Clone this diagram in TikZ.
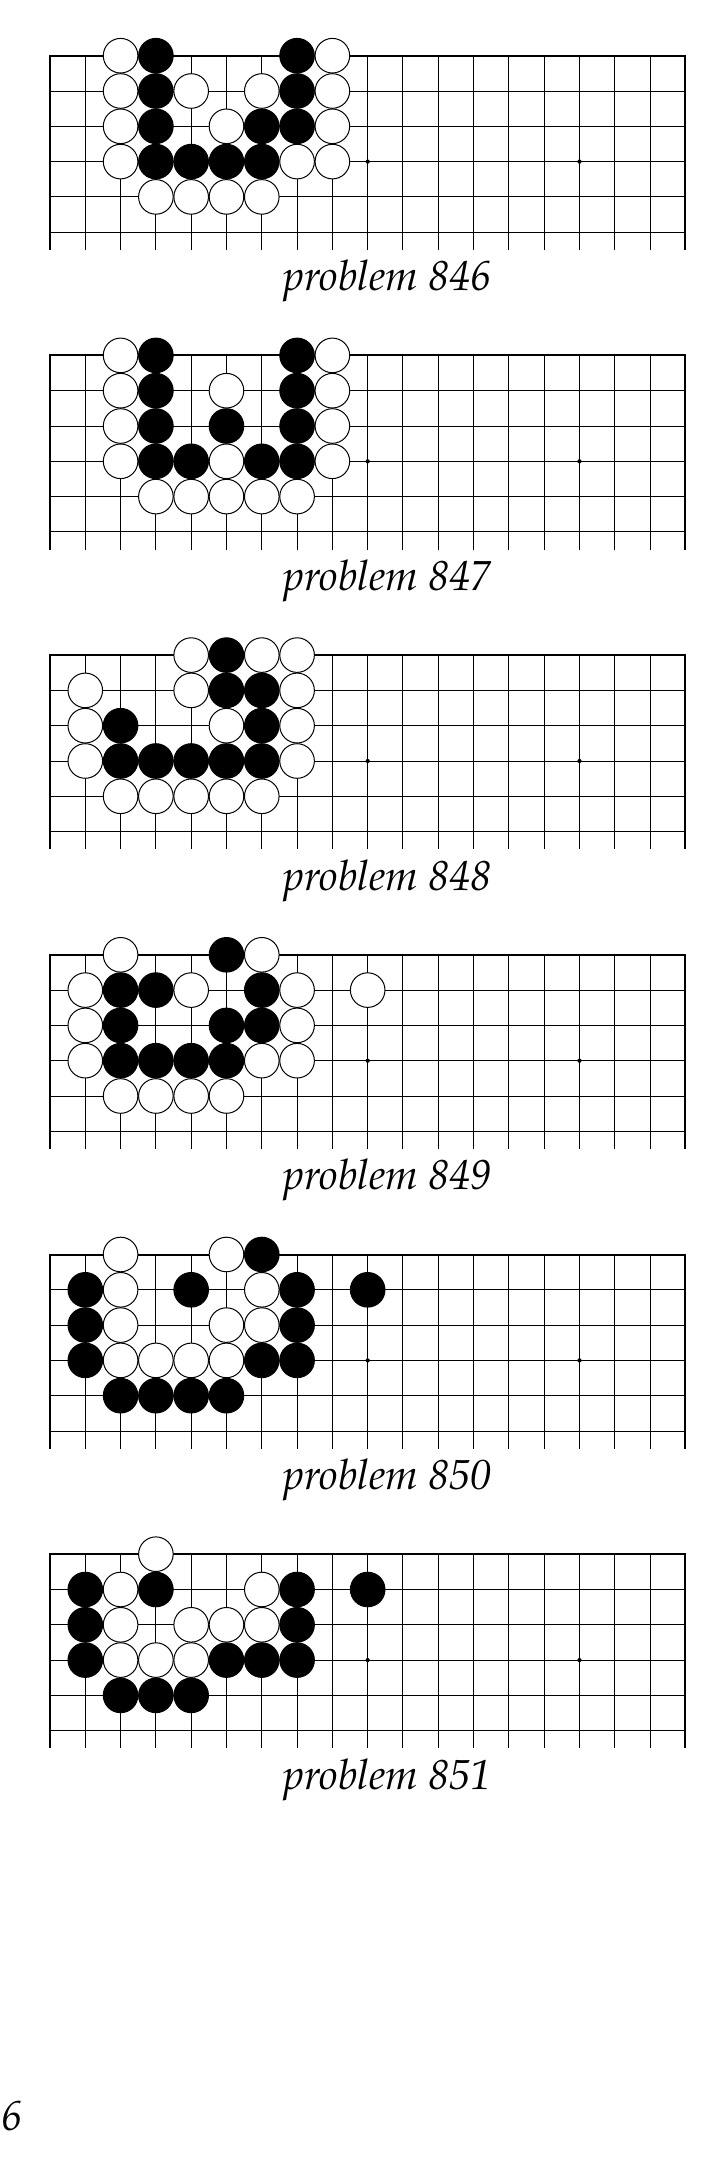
\documentclass[tikz,border=0pt]{standalone}
\usepackage{fontspec}
\setmainfont{TeX Gyre Pagella}
\usepackage{tikz}

\tikzset{
	gridline/.style={line width=0.5pt},
	boardedge/.style={line width=1pt},
	blackstone/.style={draw, fill=black, line width=0.5pt},
	whitestone/.style={draw, fill=white, line width=0.5pt},
	problabel/.style={anchor=base, inner sep=0pt, font=\itshape\fontsize{21}{25}\selectfont},
}

\newcommand{\goboard}[4]{%
	\begin{scope}[shift={(1.416,#1)}]
		\foreach \c in {1,...,17} \draw[gridline] (\c,0) -- (\c,-5.5);
		\foreach \r in {1,...,5} \draw[gridline] (0,-\r) -- (18,-\r);
		\draw[boardedge] (0,-5.5) -- (0,0) -- (18,0) -- (18,-5.5);
		\foreach \c in {3,9,15} \fill (\c,-3) circle (0.06);
		\foreach \c/\r in {#2} \draw[blackstone] (\c,-\r) circle (0.49);
		\foreach \c/\r in {#3} \draw[whitestone] (\c,-\r) circle (0.49);
		\node[problabel] (p#4) at (9.56,-6.66) {problem #4};
	\end{scope}}

\begin{document}
\begin{tikzpicture}[x=17.65pt, y=17.65pt]
		\useasboundingbox (0,0) rectangle (20.538,-61.785);
		\goboard{-1.578}{3/0,7/0,3/1,7/1,3/2,6/2,7/2,3/3,4/3,5/3,6/3}
			{2/0,8/0,2/1,4/1,6/1,8/1,2/2,5/2,8/2,2/3,7/3,8/3,3/4,4/4,5/4,6/4}{846}
		\goboard{-10.068}{3/0,7/0,3/1,7/1,3/2,5/2,7/2,3/3,4/3,6/3,7/3}
			{2/0,8/0,2/1,5/1,8/1,2/2,8/2,2/3,5/3,8/3,3/4,4/4,5/4,6/4,7/4}{847}
		\goboard{-18.558}{5/0,5/1,6/1,2/2,6/2,2/3,3/3,4/3,5/3,6/3}
			{4/0,6/0,7/0,1/1,4/1,7/1,1/2,5/2,7/2,1/3,7/3,2/4,3/4,4/4,5/4,6/4}{848}
		\goboard{-27.048}{5/0,2/1,3/1,6/1,2/2,5/2,6/2,2/3,3/3,4/3,5/3}
			{2/0,6/0,1/1,4/1,7/1,9/1,1/2,7/2,1/3,6/3,7/3,2/4,3/4,4/4,5/4}{849}
		\goboard{-35.538}{6/0,1/1,4/1,7/1,9/1,1/2,7/2,1/3,6/3,7/3,2/4,3/4,4/4,5/4}
			{2/0,5/0,2/1,6/1,2/2,5/2,6/2,2/3,3/3,4/3,5/3}{850}
		\goboard{-44.028}{1/1,3/1,7/1,9/1,1/2,7/2,1/3,5/3,6/3,7/3,2/4,3/4,4/4}
			{3/0,2/1,6/1,2/2,4/2,5/2,6/2,2/3,3/3,4/3}{851}
		\node[problabel, anchor=base west] (pagenum) at (0.03,-60.34) {6};
	\end{tikzpicture}
\end{document}
